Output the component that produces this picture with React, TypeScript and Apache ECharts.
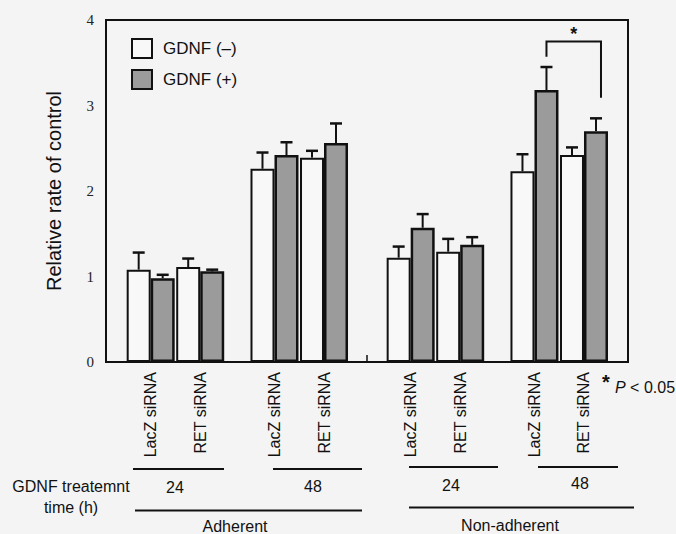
import React, { useEffect, useRef } from "react";
import * as echarts from "echarts";

// ---- data ----
const conditions = ["LacZ siRNA", "RET siRNA", "LacZ siRNA", "RET siRNA", "LacZ siRNA", "RET siRNA", "LacZ siRNA", "RET siRNA"];
const gdnfMinus = [1.08, 1.11, 2.26, 2.39, 1.22, 1.29, 2.23, 2.42];
const gdnfMinusSem = [0.2, 0.1, 0.19, 0.08, 0.13, 0.15, 0.2, 0.09];
const gdnfPlus = [0.98, 1.06, 2.42, 2.56, 1.57, 1.37, 3.18, 2.7];
const gdnfPlusSem = [0.04, 0.02, 0.15, 0.23, 0.16, 0.09, 0.27, 0.15];
const seriesNames = ["GDNF (–)", "GDNF (+)"];
const yTicks = [0, 1, 2, 3, 4];
const treatmentTimes = ["24", "48", "24", "48"];
const adhesion = ["Adherent", "Non-adherent"];
const yTitle = "Relative rate of control";
const timeTitle = ["GDNF treatemnt", "time (h)"];
const bracketValues = [3.75, 3.57, 3.09]; // top, left end, right end
const significanceMark = "*";
const pLabel = "P";
const pRest = " < 0.05";

// ---- layout (category slots give the uneven spacing of groups) ----
const SLOT_OF = [0, 4, 10, 14, 21, 25, 31, 35];
const N_SLOTS = 36;
const BAR_W = 24;
const SANS = "'Liberation Sans', Arial, sans-serif";
const SERIF = "'Liberation Serif', 'Times New Roman', serif";
const INK = "#111";

const slotLabels: string[] = Array.from({ length: N_SLOTS }, () => "");
SLOT_OF.forEach((s, i) => (slotLabels[s] = conditions[i]));

function slotData(values: number[]) {
  const arr: (number | string)[] = Array.from({ length: N_SLOTS }, () => "-");
  SLOT_OF.forEach((s, i) => (arr[s] = values[i]));
  return arr;
}

function errorSeries(values: number[], sem: number[], offset: number) {
  return {
    type: "custom",
    xAxisIndex: 1,
    yAxisIndex: 1,
    z: 5,
    silent: true,
    clip: false,
    data: values.map((v, i) => [SLOT_OF[i], v, v + sem[i]]),
    renderItem: (_p: any, api: any) => {
      const base = api.coord([api.value(0), api.value(1)]);
      const top = api.coord([api.value(0), api.value(2)]);
      const x = base[0] + offset;
      return {
        type: "group",
        children: [
          { type: "line", shape: { x1: x, y1: base[1], x2: x, y2: top[1] }, style: { stroke: INK, lineWidth: 2 } },
          { type: "line", shape: { x1: x - 6, y1: top[1], x2: x + 6, y2: top[1] }, style: { stroke: INK, lineWidth: 2.5 } },
        ],
      };
    },
  };
}

export default function App() {
  const ref = useRef<HTMLDivElement>(null);
  useEffect(() => {
    if (!ref.current) return;
    const chart = echarts.init(ref.current, null, { renderer: "svg" });
    const textEl = (text: string, x: number, y: number, size = 16, extra: any = {}) => ({
      type: "text",
      x,
      y,
      style: { text, fill: INK, font: `${size}px ${SANS}`, align: "center", verticalAlign: "middle", ...extra },
    });
    const lineEl = (x1: number, y1: number, x2: number, y2: number, w = 2) => ({
      type: "line",
      shape: { x1, y1, x2, y2 },
      style: { stroke: INK, lineWidth: w },
    });
    chart.setOption({
      animation: false,
      backgroundColor: "#f4f4f4",
      grid: [
        { left: 106, top: 20, width: 522, height: 342, show: true, borderColor: INK, borderWidth: 2, backgroundColor: "transparent" },
        { left: 144.5, top: 20, width: 12.38 * N_SLOTS, height: 342, show: false },
      ],
      legend: {
        data: seriesNames,
        orient: "vertical",
        left: 126,
        top: 33,
        itemWidth: 20,
        itemHeight: 19,
        itemGap: 10,
        icon: "rect",
        selectedMode: false,
        textStyle: { fontSize: 17, fontFamily: SANS, color: INK, padding: [0, 0, 0, 6] },
      },
      xAxis: [
        { type: "category", gridIndex: 0, show: false, data: ["a"] },
        {
          type: "category",
          gridIndex: 1,
          data: slotLabels.map((_, i) => "s" + i),
          axisLine: { show: false },
          axisTick: { show: false },
          axisLabel: {
            interval: 0,
            rotate: 90,
            margin: 10,
            fontSize: 16,
            fontFamily: SANS,
            color: INK,
            formatter: (_v: string, idx: number) => slotLabels[idx],
          },
        },
      ],
      yAxis: [
        {
          type: "value",
          gridIndex: 0,
          min: yTicks[0],
          max: yTicks[yTicks.length - 1],
          interval: 1,
          name: yTitle,
          nameLocation: "middle",
          nameGap: 42,
          nameTextStyle: { fontSize: 20, fontFamily: SANS, color: INK },
          axisLine: { show: true, lineStyle: { color: INK, width: 2 } },
          axisTick: { show: false },
          splitLine: { show: false },
          axisLabel: { fontSize: 15, fontFamily: SERIF, color: "#222", margin: 12 },
        },
        { type: "value", gridIndex: 1, min: yTicks[0], max: yTicks[yTicks.length - 1], interval: 1, show: false },
      ],
      series: [
        {
          name: seriesNames[0],
          type: "bar",
          xAxisIndex: 1,
          yAxisIndex: 1,
          clip: false,
          barWidth: BAR_W,
          barGap: "0%",
          data: slotData(gdnfMinus),
          itemStyle: { color: "#f8f8f8", borderColor: INK, borderWidth: 2 },
        },
        {
          name: seriesNames[1],
          type: "bar",
          xAxisIndex: 1,
          yAxisIndex: 1,
          clip: false,
          barWidth: BAR_W,
          barGap: "0%",
          data: slotData(gdnfPlus),
          itemStyle: { color: "#9b9b9b", borderColor: INK, borderWidth: 2.5 },
        },
        errorSeries(gdnfMinus, gdnfMinusSem, -BAR_W / 2),
        errorSeries(gdnfPlus, gdnfPlusSem, BAR_W / 2),
        {
          type: "custom",
          xAxisIndex: 1,
          yAxisIndex: 1,
          silent: true,
          clip: false,
          z: 6,
          data: [[SLOT_OF[6], bracketValues[0]]],
          renderItem: (_p: any, api: any) => {
            const lt = api.coord([SLOT_OF[6], bracketValues[0]]);
            const lb = api.coord([SLOT_OF[6], bracketValues[1]]);
            const rt = api.coord([SLOT_OF[7], bracketValues[0]]);
            const rb = api.coord([SLOT_OF[7], bracketValues[2]]);
            const xl = lt[0] + BAR_W / 2;
            const xr = rt[0] + BAR_W / 2 + 5;
            return {
              type: "group",
              children: [
                {
                  type: "polyline",
                  shape: { points: [[xl, lb[1]], [xl, lt[1]], [xr, rt[1]], [xr, rb[1]]] },
                  style: { stroke: INK, lineWidth: 2, fill: "none" },
                },
                {
                  type: "text",
                  x: (xl + xr) / 2,
                  y: lt[1] - 7,
                  style: { text: significanceMark, fill: INK, font: `bold 18px ${SANS}`, align: "center", verticalAlign: "middle" },
                },
              ],
            };
          },
        },
      ],
      graphic: [
        lineEl(367, 355, 367, 362, 1.5),
        lineEl(133, 469, 224, 469),
        lineEl(273, 469, 362, 469),
        lineEl(409, 467, 498, 467),
        lineEl(538, 467, 618, 467),
        textEl(treatmentTimes[0], 175, 487),
        textEl(treatmentTimes[1], 313, 486),
        textEl(treatmentTimes[2], 451, 485),
        textEl(treatmentTimes[3], 580, 483),
        lineEl(135, 510.5, 362, 510.5),
        lineEl(409, 507.5, 634, 507.5),
        textEl(adhesion[0], 235, 526),
        textEl(adhesion[1], 510, 525),
        textEl(timeTitle[0], 71, 486),
        textEl(timeTitle[1], 71, 507),
        textEl(significanceMark, 606, 382, 20, { font: `bold 20px ${SANS}` }),
        {
          type: "text",
          x: 615,
          y: 387,
          style: {
            text: `{i|${pLabel}}${pRest}`,
            rich: { i: { fontStyle: "italic", fontSize: 16, fontFamily: SANS, fill: INK } },
            fill: INK,
            font: `16px ${SANS}`,
            align: "left",
            verticalAlign: "middle",
          },
        },
      ],
    });
    return () => chart.dispose();
  }, []);
  return <div ref={ref} style={{ position: "absolute", left: 0, top: 0, width: 676, height: 534 }} />;
}
